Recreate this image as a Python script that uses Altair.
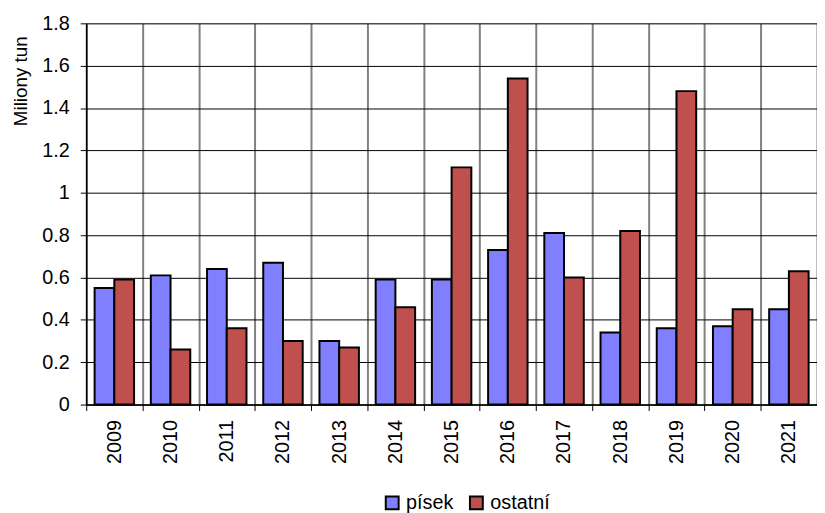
import altair as alt
import pandas as pd

years = [str(y) for y in range(2009, 2022)]
pisek = [0.55, 0.61, 0.64, 0.67, 0.30, 0.59, 0.59, 0.73, 0.81, 0.34, 0.36, 0.37, 0.45]
ostatni = [0.59, 0.26, 0.36, 0.30, 0.27, 0.46, 1.12, 1.54, 0.60, 0.82, 1.48, 0.45, 0.63]
series = ["písek", "ostatní"]
colors = ["#8080FF", "#C0504D"]
y_ticks = [0, 0.2, 0.4, 0.6, 0.8, 1, 1.2, 1.4, 1.6, 1.8]

rows = []
for i, y in enumerate(years):
    rows.append({"rok": y, "druh": series[0], "hodnota": pisek[i]})
    rows.append({"rok": y, "druh": series[1], "hodnota": ostatni[i]})
df = pd.DataFrame(rows)

FONT = "Liberation Sans"

chart = alt.Chart(df).mark_bar(stroke="black", strokeWidth=2).encode(
    x=alt.X(
        "rok:N", sort=years,
        scale=alt.Scale(paddingInner=0, paddingOuter=0),
        axis=alt.Axis(
            title=None, labelAngle=270, labelFontSize=20, labelFont=FONT,
            labelColor="black", labelAlign="right", labelBaseline="middle",
            labelPadding=9, tickBand="extent", tickSize=6, tickColor="black",
            domainColor="black", domainWidth=1.5, grid=True, gridColor="#808080",
            gridWidth=2,
        ),
    ),
    xOffset=alt.XOffset("druh:N", sort=series,
                        scale=alt.Scale(paddingOuter=0.425, paddingInner=0)),
    y=alt.Y(
        "hodnota:Q",
        scale=alt.Scale(domain=[0, 1.8], nice=False),
        axis=alt.Axis(
            values=y_ticks, format="~g", title="Miliony tun",
            titleFont=FONT, titleFontSize=19, titleFontWeight="normal",
            titleColor="black", titleAngle=270, titleX=-60, titleY=58,
            titleAlign="center", titleBaseline="alphabetic",
            labelFontSize=20, labelFont=FONT, labelColor="black",
            labelPadding=11, tickSize=6, tickColor="black",
            domainColor="black", domainWidth=1.5, grid=True,
            gridColor="black", gridWidth=1,
        ),
    ),
    color=alt.Color(
        "druh:N", sort=series,
        scale=alt.Scale(domain=series, range=colors),
        legend=alt.Legend(
            title=None, orient="none", legendX=299, legendY=474,
            direction="horizontal", symbolType="square", symbolSize=169,
            symbolStrokeColor="black", symbolStrokeWidth=2,
            labelFontSize=20, labelFont=FONT, labelColor="black",
            columnPadding=12, labelOffset=4,
        ),
    ),
).properties(
    width=738, height=385,
    autosize=alt.AutoSizeParams(type="none"),
    padding={"left": 79, "top": 13, "right": 0, "bottom": 107},
).configure_view(stroke=None).configure(background="white")

chart.save("out.html", embed_options={"renderer": "svg", "actions": False})
